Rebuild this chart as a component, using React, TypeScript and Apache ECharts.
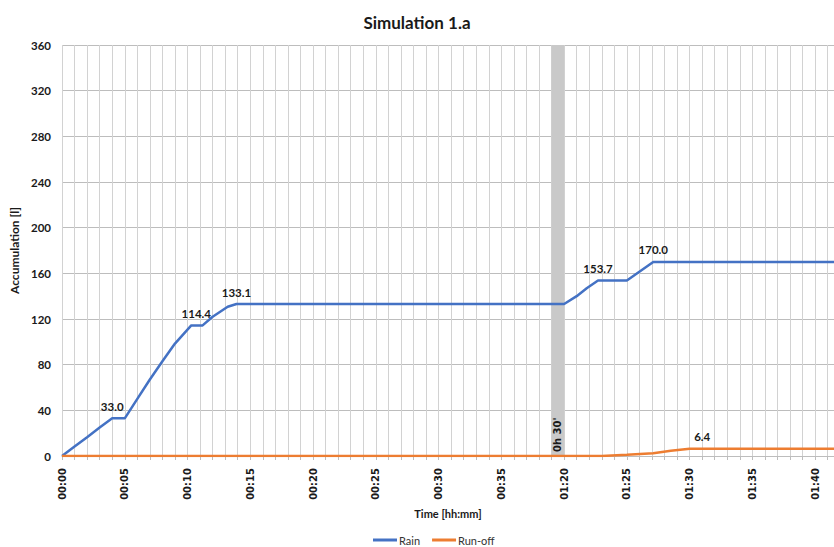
import React, { useEffect, useRef } from "react";
import * as echarts from "echarts";

// Positions on the x axis are minute slots; the break (0h 30') sits between slot 39 and 40.
const tickPositions = [0, 5, 10, 15, 20, 25, 30, 35, 40, 45, 50, 55, 60];
const tickLabels = ["00:00", "00:05", "00:10", "00:15", "00:20", "00:25", "00:30", "00:35", "01:20", "01:25", "01:30", "01:35", "01:40"];

const rainX = [0, 1, 2, 3, 4, 5, 6, 7, 8, 9, 10.3, 10.7, 11.2, 12, 13.2, 13.9, 39, 40, 41, 41.8, 42.7, 45, 47.1, 61.5];
const rainY = [0, 8.3, 16.5, 25, 33.0, 33.0, 50, 67, 83, 98.5, 114.4, 114.4, 114.4, 122, 130.7, 133.1, 133.1, 133.1, 140, 147, 153.7, 153.7, 170.0, 170.0];
const rainLabelled = [4, 10.7, 13.9, 42.7, 47.1];

const runoffX = [0, 43, 45, 47.1, 48.5, 50, 51, 61.5];
const runoffY = [0, 0, 1, 2.5, 4.5, 6.4, 6.4, 6.4];
const runoffLabelled = [51];

const breakStart = 39;
const breakEnd = 40;
const breakLabel = "0h 30'";

const FONT = "Lato";
const WIDE = "DejaVu Sans";

export default function App() {
  const ref = useRef<HTMLDivElement>(null);
  useEffect(() => {
    if (!ref.current) return;
    const chart = echarts.init(ref.current, null, { renderer: "svg" });
    const lbl = {
      show: true,
      position: "top",
      distance: 6,
      fontFamily: FONT,
      fontWeight: "bold",
      fontSize: 11.5,
      color: "#1a1a1a",
    };
    const mk = (xs: number[], ys: number[], labelled: number[]) =>
      xs.map((x, i) =>
        labelled.includes(x)
          ? { value: [x, ys[i]], label: { ...lbl, formatter: ys[i].toFixed(1) } }
          : { value: [x, ys[i]] }
      );

    chart.setOption({
      animation: false,
      textStyle: { fontFamily: FONT },
      title: {
        text: "Simulation 1.a",
        left: "center",
        top: 9,
        textStyle: { fontFamily: FONT, fontWeight: "bold", fontSize: 17, color: "#1a1a1a" },
      },
      legend: {
        top: 534,
        left: 373,
        padding: 0,
        itemWidth: 24,
        itemHeight: 3,
        itemGap: 12,
        icon: "rect",
        textStyle: { fontFamily: FONT, fontSize: 11, lineHeight: 12, color: "#333", padding: [0, 0, 0, -3] },
        data: ["Rain", "Run-off"],
      },
      grid: { left: 62, right: 0, top: 45, bottom: 91 },
      xAxis: {
        type: "value",
        min: 0,
        max: 61.5,
        interval: 1,
        name: "Time [hh:mm]",
        nameLocation: "middle",
        nameGap: 48,
        nameTextStyle: { fontFamily: FONT, fontWeight: "bold", fontSize: 11, color: "#1a1a1a" },
        axisLine: { show: true, lineStyle: { color: "#bdbdbd" } },
        axisTick: { show: true, length: 4, lineStyle: { color: "#bdbdbd" } },
        splitLine: { show: true, lineStyle: { color: "#d2d2d2", width: 1 } },
        axisLabel: {
          rotate: 90,
          margin: 12,
          fontFamily: WIDE,
          fontWeight: "bold",
          fontSize: 10,
          color: "#1a1a1a",
          showMaxLabel: false,
          formatter: (v: number) => {
            const i = tickPositions.indexOf(v);
            return i >= 0 ? tickLabels[i] : "";
          },
        },
      },
      yAxis: {
        type: "value",
        min: 0,
        max: 360,
        interval: 40,
        name: "Accumulation [l]",
        nameLocation: "middle",
        nameGap: 30,
        nameTextStyle: { fontFamily: FONT, fontWeight: "bold", fontSize: 12, color: "#1a1a1a" },
        axisLine: { show: false },
        axisTick: { show: false },
        splitLine: { show: true, lineStyle: { color: "#bdbdbd", width: 1 } },
        axisLabel: { fontFamily: FONT, fontWeight: "bold", fontSize: 11.5, color: "#1a1a1a", margin: 11 },
      },
      series: [
        {
          name: "Rain",
          type: "line",
          symbol: "circle",
          symbolSize: 0,
          showSymbol: true,
          color: "#4472C4",
          lineStyle: { width: 2.5, color: "#4472C4" },
          data: mk(rainX, rainY, rainLabelled),
          z: 3,
          markArea: {
            silent: true,
            itemStyle: { color: "#c9c9c9" },
            label: {
              show: true,
              position: "insideBottom",
              rotate: 90,
              align: "left",
              verticalAlign: "middle",
              distance: 4,
              fontFamily: WIDE,
              fontWeight: "bold",
              fontSize: 10,
              color: "#1a1a1a",
            },
            data: [[{ xAxis: breakStart, name: breakLabel }, { xAxis: breakEnd }]],
          },
        },
        {
          name: "Run-off",
          type: "line",
          symbol: "circle",
          symbolSize: 0,
          showSymbol: true,
          color: "#ED7D31",
          lineStyle: { width: 2.5, color: "#ED7D31" },
          data: mk(runoffX, runoffY, runoffLabelled),
          z: 4,
        },
      ],
    });
    return () => chart.dispose();
  }, []);
  return <div ref={ref} style={{ position: "fixed", left: 0, top: 0, width: 834, height: 547, background: "#fff" }} />;
}
